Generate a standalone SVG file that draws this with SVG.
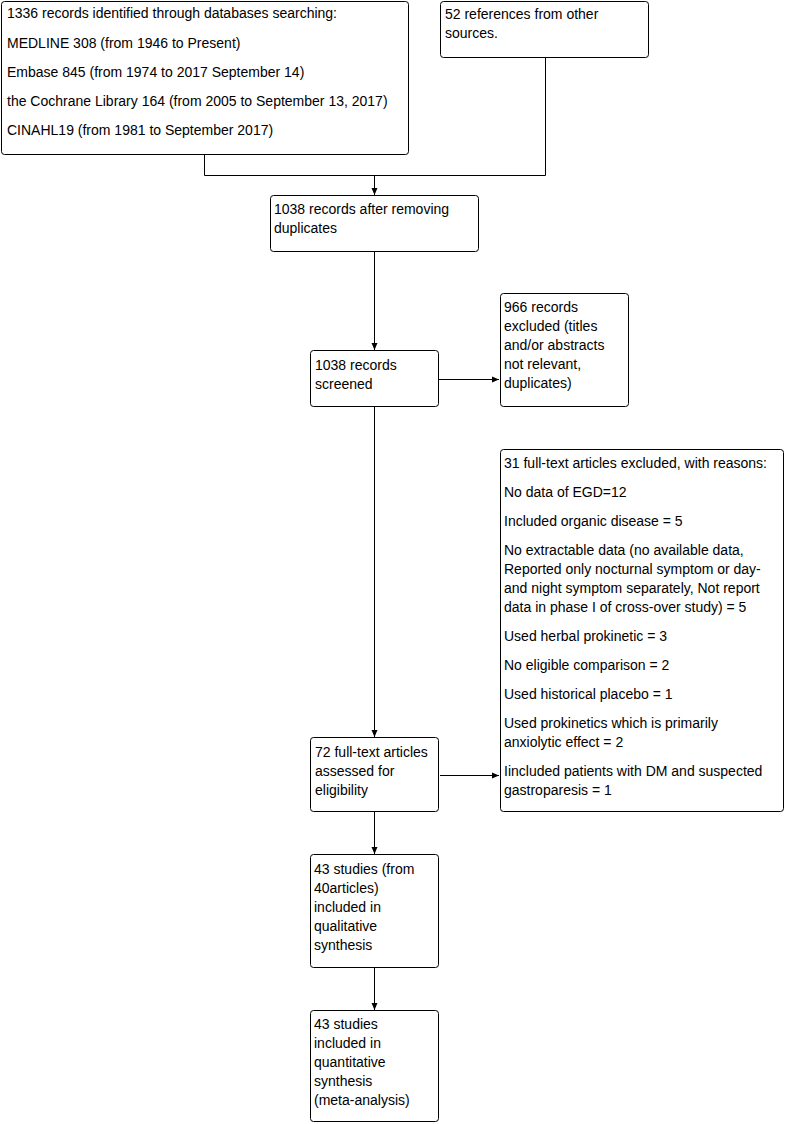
<svg xmlns="http://www.w3.org/2000/svg" width="786" height="1124" viewBox="0 0 786 1124">
<style>
.b{fill:#fff;stroke:#000;stroke-width:1}
.t{font-family:"Liberation Sans",Arial,sans-serif;font-size:14px;fill:#000}
.c{fill:none;stroke:#000;stroke-width:1}
</style>
<defs>
<marker id="a" markerWidth="8" markerHeight="8" refX="7" refY="4" orient="auto" markerUnits="userSpaceOnUse">
<path d="M0,1 L7,4 L0,7 Z" fill="#000"/>
</marker>
</defs>
<rect width="786" height="1124" fill="#fff"/>
<g id="connectors">
<path class="c" d="M204.5,154 V175.5 H545.5 V57"/>
<path class="c" d="M374.5,175.5 V195" marker-end="url(#a)"/>
<path class="c" d="M374.5,252 V350" marker-end="url(#a)"/>
<path class="c" d="M438,379.5 H499" marker-end="url(#a)"/>
<path class="c" d="M374.5,407 V737" marker-end="url(#a)"/>
<path class="c" d="M440,775.5 H499" marker-end="url(#a)"/>
<path class="c" d="M374.5,812 V854" marker-end="url(#a)"/>
<path class="c" d="M374.5,968 V1010" marker-end="url(#a)"/>
</g>
<g id="n1">
<rect class="b" x="1.5" y="1.5" width="407" height="153" rx="3"/>
<text class="t" x="7" y="18">1336 records identified through databases searching:</text>
<text class="t" x="7" y="48">MEDLINE 308 (from 1946 to Present)</text>
<text class="t" x="7" y="77">Embase 845 (from 1974 to 2017 September 14)</text>
<text class="t" x="7" y="106">the Cochrane Library 164 (from 2005 to September 13, 2017)</text>
<text class="t" x="7" y="135">CINAHL19 (from 1981 to September 2017)</text>
</g>
<g id="n2">
<rect class="b" x="440.5" y="1.5" width="208" height="56" rx="3"/>
<text class="t" x="445" y="19">52 references from other</text>
<text class="t" x="445" y="38">sources.</text>
</g>
<g id="n3">
<rect class="b" x="270.5" y="195.5" width="208" height="56" rx="3"/>
<text class="t" x="274" y="214">1038 records after removing</text>
<text class="t" x="274" y="233">duplicates</text>
</g>
<g id="n4">
<rect class="b" x="310.5" y="350.5" width="128" height="56" rx="3"/>
<text class="t" x="315" y="370">1038 records</text>
<text class="t" x="315" y="389">screened</text>
</g>
<g id="n5">
<rect class="b" x="500.5" y="293.5" width="128" height="113" rx="3"/>
<text class="t" x="504" y="312">966 records</text>
<text class="t" x="504" y="331">excluded (titles</text>
<text class="t" x="504" y="350">and/or abstracts</text>
<text class="t" x="504" y="369">not relevant,</text>
<text class="t" x="504" y="388">duplicates)</text>
</g>
<g id="n6">
<rect class="b" x="310.5" y="737.5" width="128" height="74" rx="3"/>
<text class="t" x="315" y="757">72 full-text articles</text>
<text class="t" x="315" y="776">assessed for</text>
<text class="t" x="315" y="795">eligibility</text>
</g>
<g id="n7">
<rect class="b" x="500.5" y="449.5" width="283" height="362" rx="3"/>
<text class="t" x="504" y="468">31 full-text articles excluded, with reasons:</text>
<text class="t" x="504" y="497">No data of EGD=12</text>
<text class="t" x="504" y="526">Included organic disease = 5</text>
<text class="t" x="504" y="555">No extractable data (no available data,</text>
<text class="t" x="504" y="574">Reported only nocturnal symptom or day-</text>
<text class="t" x="504" y="593">and night symptom separately, Not report</text>
<text class="t" x="504" y="612">data in phase I of cross-over study) = 5</text>
<text class="t" x="504" y="641">Used herbal prokinetic = 3</text>
<text class="t" x="504" y="670">No eligible comparison = 2</text>
<text class="t" x="504" y="699">Used historical placebo = 1</text>
<text class="t" x="504" y="728">Used prokinetics which is primarily</text>
<text class="t" x="504" y="747">anxiolytic effect = 2</text>
<text class="t" x="504" y="776">Iincluded patients with DM and suspected</text>
<text class="t" x="504" y="795">gastroparesis = 1</text>
</g>
<g id="n8">
<rect class="b" x="310.5" y="854.5" width="128" height="113" rx="3"/>
<text class="t" x="314" y="874">43 studies (from</text>
<text class="t" x="314" y="893">40articles)</text>
<text class="t" x="314" y="912">included in</text>
<text class="t" x="314" y="931">qualitative</text>
<text class="t" x="314" y="950">synthesis</text>
</g>
<g id="n9">
<rect class="b" x="310.5" y="1010.5" width="128" height="111" rx="3"/>
<text class="t" x="314" y="1029">43 studies</text>
<text class="t" x="314" y="1048">included in</text>
<text class="t" x="314" y="1067">quantitative</text>
<text class="t" x="314" y="1086">synthesis</text>
<text class="t" x="314" y="1105">(meta-analysis)</text>
</g>
</svg>
